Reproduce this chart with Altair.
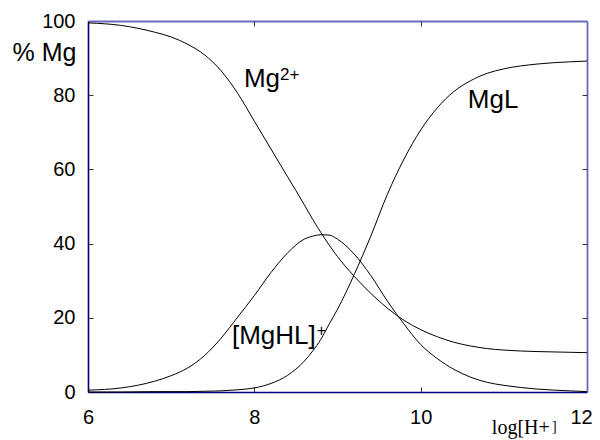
import altair as alt
import pandas as pd

# ---- data ----
x_vals = [6.0, 6.4, 6.8, 7.0, 7.2, 7.4, 7.6, 7.8, 8.0, 8.2, 8.4, 8.6, 8.7, 8.8, 8.9,
          9.0, 9.2, 9.4, 9.6, 9.8, 10.0, 10.2, 10.4, 10.6, 10.8, 11.0, 11.4, 11.8, 12.0]
mg_free = [99.5, 98.8, 97.0, 95.7, 93.7, 90.9, 86.6, 80.5, 73.0, 65.5, 58.0, 50.5, 46.6, 43.0, 39.6,
           36.5, 31.2, 26.6, 22.6, 19.3, 16.8, 14.9, 13.4, 12.4, 11.7, 11.3, 10.9, 10.7, 10.6]
mg_hl = [0.5, 1.1, 2.9, 4.4, 6.5, 9.8, 14.5, 20.2, 26.0, 32.2, 37.5, 41.2, 42.0, 42.4, 42.3,
         41.2, 37.2, 31.4, 24.5, 18.3, 12.8, 9.0, 6.1, 4.0, 2.6, 1.8, 0.8, 0.3, 0.1]
mg_l = [0.0, 0.0, 0.1, 0.1, 0.1, 0.2, 0.3, 0.6, 1.1, 2.3, 4.5, 8.3, 11.0, 14.2, 18.3,
        22.3, 31.6, 42.0, 53.3, 62.8, 70.6, 76.6, 81.0, 83.9, 85.9, 87.1, 88.4, 89.0, 89.2]
series_names = ["Mg2+", "[MgHL]+", "MgL"]

x_ticks = [6, 8, 10, 12]
y_ticks = [0, 20, 40, 60, 80, 100]

# annotation texts (curve labels)
ann_text = ["Mg", "2+", "MgL", "[MgHL]", "+"]
ann_x = [7.875, 8.308, 10.567, 7.731, 8.752]
ann_y = [82.2, 84.1, 76.5, 12.9, 15.1]
ann_size = [26, 17, 26, 26, 16]

# x axis title pieces
xt_text = ["log[H+", "]"]
xt_x = [10.856, 11.58]
xt_y = [-11.3, -10.5]
xt_size = [20, 14]

rows = []
for name, vals in zip(series_names, [mg_free, mg_hl, mg_l]):
    for xv, yv in zip(x_vals, vals):
        rows.append({"x": xv, "y": yv, "species": name})
df = pd.DataFrame(rows)

ann_df = pd.DataFrame({"t": ann_text, "x": ann_x, "y": ann_y, "fs": ann_size})
xt_df = pd.DataFrame({"t": xt_text, "x": xt_x, "y": xt_y, "fs": xt_size})

NAVY = "#00007f"
LIGHT = "#6a6abf"
FONT = "Liberation Sans"
TICK = "#333333"

xs = alt.Scale(domain=[6, 12], nice=False, zero=False)
ys = alt.Scale(domain=[0, 100], nice=False, zero=False)

lines = alt.Chart(df).mark_line(color="black", strokeWidth=1, interpolate="monotone").encode(
    x=alt.X("x:Q", scale=xs, axis=alt.Axis(
        orient="bottom", values=x_ticks, ticks=False, grid=False,
        domainColor=NAVY, domainWidth=1.6, labelFont=FONT, labelFontSize=20,
        labelColor="black", labelPadding=15, labelFlush=False,
        labelOffset={"condition": {"test": "datum.value === 12", "value": -6}, "value": 0},
        title=None)),
    y=alt.Y("y:Q", scale=ys, axis=alt.Axis(
        orient="left", values=y_ticks, ticks=False, grid=False,
        domainColor=NAVY, domainWidth=1.6, labelFont=FONT, labelFontSize=20,
        labelColor="black", labelPadding=13, labelFlush=False,
        title="% Mg", titleAngle=0, titleAlign="left", titleBaseline="alphabetic",
        titleX=-76, titleY=39, titleFont=FONT, titleFontSize=25,
        titleFontWeight="normal", titleColor="black")),
    detail="species:N",
)

frame = alt.Chart(df).mark_line(opacity=0).encode(
    x=alt.X("x:Q", scale=xs, axis=alt.Axis(
        orient="top", ticks=False, labels=False, grid=False,
        domainColor=LIGHT, domainWidth=1.8, title=None)),
    y=alt.Y("y:Q", scale=ys, axis=alt.Axis(
        orient="right", ticks=False, labels=False, grid=False,
        domainColor=LIGHT, domainWidth=1.8, title=None)),
    detail="species:N",
)

ticks_bl = alt.Chart(df).mark_line(opacity=0).encode(
    x=alt.X("x:Q", scale=xs, axis=alt.Axis(
        orient="bottom", values=[8, 10], offset=-5, domain=False, labels=False,
        grid=False, ticks=True, tickSize=5, tickColor=TICK, title=None)),
    y=alt.Y("y:Q", scale=ys, axis=alt.Axis(
        orient="left", values=[20, 40, 60, 80], offset=-5, domain=False, labels=False,
        grid=False, ticks=True, tickSize=5, tickColor=TICK, title=None)),
    detail="species:N",
)

ticks_tr = alt.Chart(df).mark_line(opacity=0).encode(
    x=alt.X("x:Q", scale=xs, axis=alt.Axis(
        orient="top", values=[8, 10], offset=-5, domain=False, labels=False,
        grid=False, ticks=True, tickSize=5, tickColor=TICK, title=None)),
    y=alt.Y("y:Q", scale=ys, axis=alt.Axis(
        orient="right", values=[20, 40, 60, 80], offset=-5, domain=False, labels=False,
        grid=False, ticks=True, tickSize=5, tickColor=TICK, title=None)),
    detail="species:N",
)

ann = alt.Chart(ann_df).mark_text(align="left", baseline="alphabetic", font=FONT,
                                  color="black").encode(
    x=alt.X("x:Q", scale=xs, axis=None),
    y=alt.Y("y:Q", scale=ys, axis=None),
    text="t:N",
    size=alt.Size("fs:Q", scale=None, legend=None),
)

xtitle = alt.Chart(xt_df).mark_text(align="left", baseline="alphabetic",
                                    font="Liberation Serif", color="black").encode(
    x=alt.X("x:Q", scale=xs, axis=None),
    y=alt.Y("y:Q", scale=ys, axis=None),
    text="t:N",
    size=alt.Size("fs:Q", scale=None, legend=None),
)

chart = alt.layer(lines, frame, ticks_bl, ticks_tr, ann, xtitle).resolve_axis(
    x="independent", y="independent"
).properties(
    width=499, height=371,
    autosize=alt.AutoSizeParams(type="none"),
    padding={"left": 80, "top": 13, "right": 5, "bottom": 48},
    background="white",
).configure_view(stroke=None)

chart.save("out.html", embed_options={"renderer": "svg", "actions": False})
